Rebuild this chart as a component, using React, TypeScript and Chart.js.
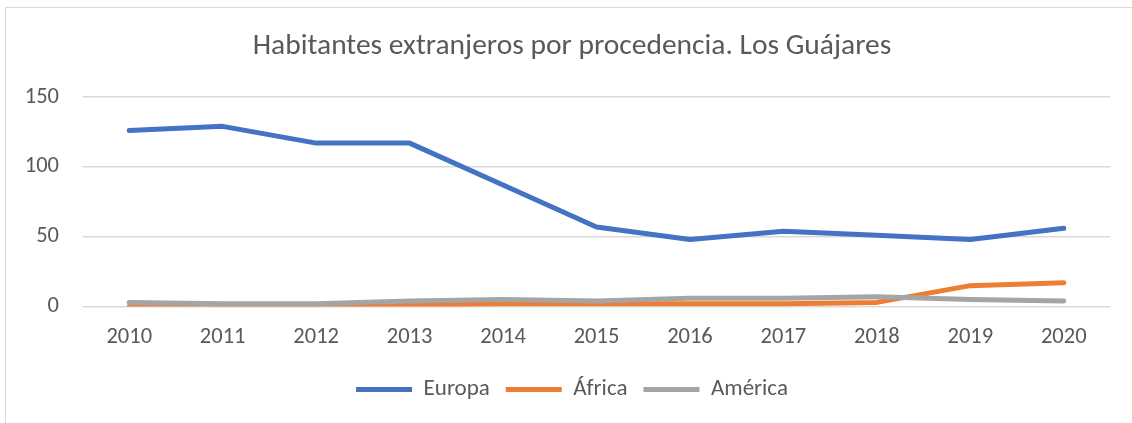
import React, { useEffect, useRef } from "react";
import { Chart, registerables } from "chart.js";

Chart.register(...registerables);

const years = ["2010", "2011", "2012", "2013", "2014", "2015", "2016", "2017", "2018", "2019", "2020"];
const europa = [126, 129, 117, 117, 87, 57, 48, 54, 51, 48, 56];
const africa = [0, 0, 1, 1, 2, 2, 2, 2, 3, 15, 17];
const america = [3, 2, 2, 4, 5, 4, 6, 6, 7, 5, 4];
const yTicks = [0, 50, 100, 150];

const FONT = "Calibri, Carlito, 'Open Sans', sans-serif";
const TEXT = "#595959";
const GRID = "#d9d9d9";

export default function App() {
  const ref = useRef<HTMLCanvasElement | null>(null);
  useEffect(() => {
    document.body.style.margin = "0";
    const ctx = ref.current!;
    const chart = new Chart(ctx, {
      type: "line",
      data: {
        labels: years,
        datasets: [
          { label: "Europa", data: europa, borderColor: "#4472C4", backgroundColor: "#4472C4" },
          { label: "África", data: africa, borderColor: "#ED7D31", backgroundColor: "#ED7D31" },
          { label: "América", data: america, borderColor: "#A5A5A5", backgroundColor: "#A5A5A5" },
        ].map((d, i) => ({
          ...d,
          borderWidth: 5,
          borderCapStyle: "round" as const,
          borderJoinStyle: "round" as const,
          pointRadius: 0,
          pointHoverRadius: 0,
          tension: 0,
          pointStyle: "line" as const,
          order: 2 - i,
        })),
      },
      options: {
        animation: false,
        responsive: false,
        maintainAspectRatio: false,
        layout: { padding: { left: 12, right: 0, top: 0, bottom: 12 } },
        plugins: {
          tooltip: { enabled: false },
          title: {
            display: true,
            text: "Habitantes extranjeros por procedencia. Los Guájares",
            color: TEXT,
            font: { family: FONT, size: 29.5, weight: "normal" },
            padding: { top: 29.3, bottom: 32.3 },
          },
          legend: {
            position: "bottom",
            labels: {
              usePointStyle: true,
              pointStyleWidth: 56,
              boxHeight: 5,
              color: TEXT,
              font: { family: FONT, size: 23 },
              padding: 16,
              sort: (a: any, b: any) => a.datasetIndex - b.datasetIndex,
            },
          },
        },
        scales: {
          x: {
            offset: true,
            grid: { display: false, drawTicks: false },
            border: { display: false },
            ticks: { color: TEXT, font: { family: FONT, size: 22.5 }, padding: 17 },
            afterFit: (s: any) => { s.height = 55.4; },
          },
          y: {
            min: 0,
            max: 150,
            afterBuildTicks: (s: any) => { s.ticks = yTicks.map((v) => ({ value: v })); },
            grid: { color: GRID, lineWidth: 1.5, drawTicks: false },
            border: { display: false },
            ticks: { color: TEXT, font: { family: FONT, size: 22.5 }, padding: 23.5 },
            afterFit: (s: any) => { s.width = 70.5; },
          },
          yRight: {
            type: "linear",
            position: "right",
            min: 0,
            max: 150,
            grid: { display: false, drawTicks: false },
            border: { display: false },
            ticks: { display: false },
            afterFit: (s: any) => { s.width = 21.5; },
          },
        },
      },
    });
    return () => chart.destroy();
  }, []);
  return (
    <div style={{ position: "fixed", left: 0, top: 0, width: 1132, height: 423, background: "#fff", overflow: "hidden" }}>
      <div style={{ position: "absolute", left: 5, top: 7, width: 1160, height: 440, border: "1.5px solid #d9d9d9", boxSizing: "border-box" }} />
      <canvas ref={ref} width={1132} height={423} style={{ position: "absolute", left: 0, top: 0, width: 1132, height: 423 }} />
    </div>
  );
}
